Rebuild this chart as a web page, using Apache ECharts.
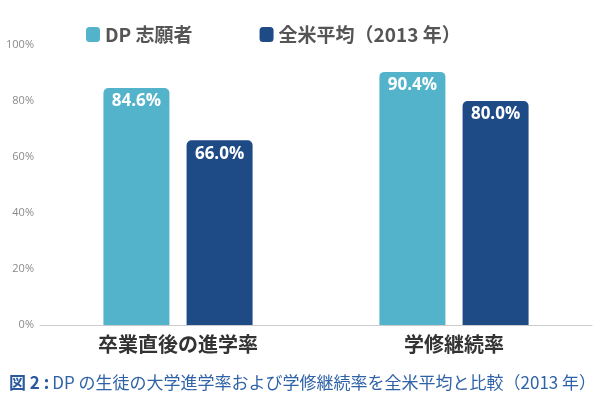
<!DOCTYPE html>
<html><head><meta charset="utf-8">
<script src="https://cdn.jsdelivr.net/npm/echarts@6/dist/echarts.min.js"></script>
<style>html,body{margin:0;padding:0;background:#fff}#c{width:600px;height:402px}</style>
</head><body><div id="c"></div>
<script>
const categories = ['卒業直後の進学率', '学修継続率'];
const seriesNames = ['DP 志願者', '全米平均（2013 年）'];
const dpValues = [84.6, 90.4];
const usValues = [66.0, 80.0];
const yTicks = [0, 20, 40, 60, 80, 100];
const captionHead = '図 2 :';
const captionBody = 'DP の生徒の大学進学率および学修継続率を全米平均と比較（2013 年）';
const FONT = '"Noto Sans CJK JP", "Open Sans", sans-serif';

const chart = echarts.init(document.getElementById('c'));
const labelCfg = {
  show: true, position: 'insideTop', distance: 5,
  color: '#fff', fontWeight: 'bold', fontSize: 17, fontFamily: '"Open Sans", "Noto Sans CJK JP", sans-serif',
  formatter: p => p.value.toFixed(1) + '%'
};
chart.setOption({
  animation: false,
  textStyle: { fontFamily: FONT },
  title: {
    left: 4, top: 369,
    text: '{b|' + captionHead + '}{n|' + captionBody + '}',
    textStyle: {
      fontWeight: 'normal',
      rich: {
        b: { fontSize: 17, fontWeight: 'bold', color: '#2a5a9c', fontFamily: FONT, padding: [0, 3, 0, 0] },
        n: { fontSize: 17, fontWeight: 'normal', color: '#2f62a6', fontFamily: FONT }
      }
    }
  },
  legend: {
    top: 20, left: 81,
    itemWidth: 14, itemHeight: 15, itemGap: 67,
    icon: 'roundRect',
    textStyle: { fontSize: 19, fontWeight: 'bold', color: '#555', fontFamily: FONT },
    data: seriesNames
  },
  grid: { left: 40, right: 8, top: 45, bottom: 77 },
  xAxis: {
    type: 'category', data: categories,
    axisLine: { lineStyle: { color: '#cccccc', width: 1 } },
    axisTick: { show: false },
    axisLabel: { fontSize: 20, fontWeight: 'bold', color: '#333', margin: 9, fontFamily: FONT }
  },
  yAxis: {
    type: 'value', min: yTicks[0], max: yTicks[yTicks.length - 1], interval: 20,
    axisLine: { show: false }, axisTick: { show: false },
    splitLine: { show: false },
    axisLabel: { fontSize: 11, color: '#8a8a8a', margin: 6, formatter: '{value}%', fontFamily: '"Open Sans", sans-serif' }
  },
  series: [
    { name: seriesNames[0], type: 'bar', data: dpValues, barWidth: 66, barGap: '26%',
      itemStyle: { color: '#52b3cb', borderRadius: [5, 5, 0, 0] }, label: labelCfg },
    { name: seriesNames[1], type: 'bar', data: usValues, barWidth: 66,
      itemStyle: { color: '#1e4a86', borderRadius: [5, 5, 0, 0] }, label: labelCfg }
  ]
});
</script></body></html>
